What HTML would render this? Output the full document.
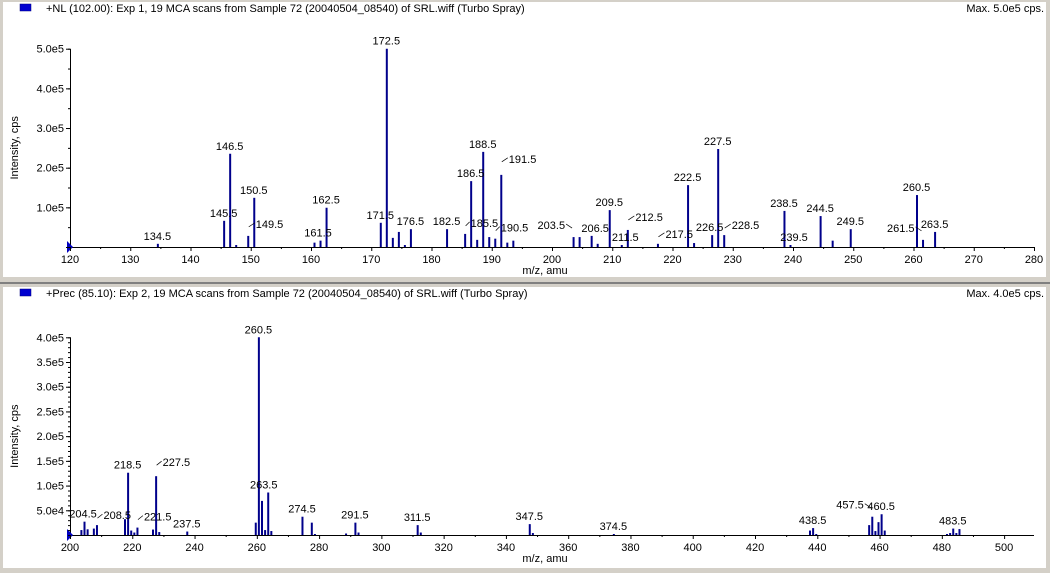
<!DOCTYPE html>
<html><head><meta charset="utf-8"><style>
body{margin:0;width:1050px;height:573px;background:#d4d0c8;overflow:hidden;font-family:"Liberation Sans",Arial,sans-serif}
svg{display:block}
text{font-family:"Liberation Sans",Arial,sans-serif;font-size:11px;fill:#000}
</style></head><body>
<svg id="chart" width="1050" height="573"></svg>
<script>
const topMz=[134.5,145.5,146.5,147.5,149.5,150.5,160.5,161.5,162.5,171.5,172.5,173.5,174.5,175.5,176.5,182.5,185.5,186.5,187.5,188.5,189.5,190.5,191.5,192.5,193.5,203.5,204.5,206.5,207.5,209.5,211.5,212.5,217.5,222.5,223.5,226.5,227.5,228.5,238.5,239.5,244.5,246.5,249.5,260.5,261.5,263.5];
const topInt=[8000,66000,235000,5000,28000,124000,11000,16000,99000,61000,500000,23000,38000,5000,45000,45000,33000,166000,18000,240000,25000,21000,182000,11000,16000,25000,25000,28000,8000,93000,5000,43000,8000,156000,10000,30000,247000,30000,91000,5000,78000,16000,45000,131000,18000,38000];
const topLabels=["134.5","145.5","146.5","149.5","150.5","161.5","162.5","171.5","172.5","176.5","182.5","185.5","186.5","188.5","190.5","191.5","203.5","206.5","209.5","211.5","212.5","217.5","222.5","226.5","227.5","228.5","238.5","239.5","244.5","249.5","260.5","261.5","263.5"];
const topYTicks=[0,100000,200000,300000,400000,500000];
const topYTickLabels=["","1.0e5","2.0e5","3.0e5","4.0e5","5.0e5"];
const topXTicks=[120,130,140,150,160,170,180,190,200,210,220,230,240,250,260,270,280];

const botMz=[203.5,204.5,205.5,207.5,208.5,217.5,218.5,219.5,220.5,221.5,226.5,227.5,228.5,237.5,259.5,260.5,261.5,262.5,263.5,264.5,274.5,277.5,278.5,288.5,291.5,292.5,311.5,312.5,347.5,348.5,374.5,437.5,438.5,439.5,456.5,457.5,458.5,459.5,460.5,461.5,481.5,482.5,483.5,484.5,485.5];
const botInt=[10000,27000,11500,13000,20000,32000,126000,9000,5000,15000,11000,119000,6000,7000,25000,400000,69000,10000,86000,8000,37000,25000,2000,3000,25000,5000,20000,5000,22000,4000,2000,9000,14000,2000,20000,37000,8000,26000,42000,9000,2000,4000,13000,4000,12000];
const botLabels=["204.5","208.5","218.5","221.5","227.5","237.5","260.5","263.5","274.5","291.5","311.5","347.5","374.5","438.5","457.5","460.5","483.5"];
const botYTicks=[50000,100000,150000,200000,250000,300000,350000,400000];
const botYTickLabels=["5.0e4","1.0e5","1.5e5","2.0e5","2.5e5","3.0e5","3.5e5","4.0e5"];
const botXTicks=[200,220,240,260,280,300,320,340,360,380,400,420,440,460,480,500];

// label offsets (style, not data): [dx, dy, leader]; leader: 1 = label right of peak, -1 = left
const labelOff={
 top:{"149.5":[8,-4,1],"191.5":[8,-8,1],"212.5":[8,-5,1],"217.5":[8,-2,1],"228.5":[8,-2,1],"185.5":[6,-3,1],"190.5":[6,-3,1],"203.5":[-8,-4,-1],"261.5":[-8,-4,-1],"211.5":[4,0,0],"239.5":[4,0,0],"206.5":[4,0,0],"226.5":[-2,0,0],"161.5":[-2,0,0]},
 bot:{"204.5":[-1,0,0],"208.5":[7,-2,1],"221.5":[7,-3,1],"227.5":[7,-6,1],"457.5":[-8,-4,-1],"263.5":[-4,0,0]}
};

const NS="http://www.w3.org/2000/svg";
const svg=document.getElementById('chart');
function mk(tag,attrs,parent){const e=document.createElementNS(NS,tag);for(const k in attrs)e.setAttribute(k,attrs[k]);(parent||svg).appendChild(e);return e;}

function panel(cfg){
 const g=mk('g',{});
 
 
 const bg=mk('rect',{x:3,y:cfg.py0,width:1043,height:cfg.py1-cfg.py0,fill:'#fff'},g);
 
 
 const sq=mk('rect',{x:20,y:cfg.py0+2,width:11,height:7,fill:'#0000d0',stroke:'#000080','stroke-width':0.5},g);
 
 
 const tt=mk('text',{x:46,y:cfg.py0+10,'font-size':'10px'},g);tt.textContent=cfg.title;
 
 
 const mx=mk('text',{x:1044,y:cfg.py0+10,'text-anchor':'end','font-size':'10px'},g);mx.textContent=cfg.max;
 
 
 const X=v=>cfg.x0+(v-cfg.xmin)*(cfg.x1-cfg.x0)/(cfg.xmax-cfg.xmin);
 const Y=v=>cfg.y0-v*(cfg.y0-cfg.yTop)/cfg.ymax;
 const xa=mk('line',{x1:cfg.x0,y1:cfg.y0+0.5,x2:cfg.x1,y2:cfg.y0+0.5,stroke:'#000'},g);
 
 
 const ya=mk('line',{x1:cfg.x0+0.5,y1:cfg.yTop,x2:cfg.x0+0.5,y2:cfg.y0,stroke:'#000'},g);
 
 
 const tri=mk('polygon',{points:`${cfg.x0-3},${cfg.y0-6} ${cfg.x0+3},${cfg.y0} ${cfg.x0-3},${cfg.y0+6}`,fill:'#0000c0'},g);
 
 
 const step=cfg.xTicks[1]-cfg.xTicks[0];
 for(let v=cfg.xmin;v<=cfg.xmax+0.01;v+=step/2){
  const major=cfg.xTicks.includes(v);
  mk('line',{x1:X(v)+0.5,y1:cfg.y0,x2:X(v)+0.5,y2:cfg.y0+(major?4:2),stroke:'#000'},g);
 }
 cfg.xTicks.forEach(v=>{const t=mk('text',{x:X(v),y:cfg.y0+16,'text-anchor':'middle'},g);t.textContent=v;
  
  });
 const ys=cfg.yTicks[1]-cfg.yTicks[0];
 for(let v=0;v<=cfg.ymax+1;v+=ys/cfg.yMinorDiv){
  mk('line',{x1:cfg.x0-2,y1:Y(v)+0.5,x2:cfg.x0,y2:Y(v)+0.5,stroke:'#000'},g);
 }
 cfg.yTicks.forEach((v,i)=>{
  mk('line',{x1:cfg.x0-4,y1:Y(v)+0.5,x2:cfg.x0,y2:Y(v)+0.5,stroke:'#000'},g);
  const t=mk('text',{x:cfg.x0-6,y:Y(v)+4,'text-anchor':'end'},g);t.textContent=cfg.yTickLabels[i];
  
  
 });
 const yt=mk('text',{x:0,y:0,'text-anchor':'middle','font-size':'12px',transform:`translate(18,${(cfg.y0+cfg.yTop)/2}) rotate(-90)`},g);yt.textContent='Intensity, cps';
 
 
 const xt=mk('text',{x:545,y:cfg.y0+27,'text-anchor':'middle','font-size':'10px'},g);xt.textContent='m/z, amu';
 
 
 cfg.mz.forEach((m,i)=>{
  const l=mk('line',{x1:X(m)+0.5,y1:Y(cfg.int[i]),x2:X(m)+0.5,y2:cfg.y0,stroke:'#00008b','stroke-width':2},g);
  
  
 });
 cfg.labels.forEach(s=>{
  const m=parseFloat(s);const idx=cfg.mz.indexOf(m);
  const o=cfg.off[s]||[0,0,0];
  const px=X(m),py=Y(cfg.int[idx]);
  const by=py-4+o[1];
  let t;
  if(o[2]===1){
   t=mk('text',{x:px+o[0],y:by,'text-anchor':'start'},g);
   mk('line',{x1:px+1,y1:by-1,x2:px+o[0]-1,y2:by-5,stroke:'#000','stroke-width':0.7},g);
  }else if(o[2]===-1){
   t=mk('text',{x:px+o[0],y:by,'text-anchor':'end'},g);
   mk('line',{x1:px-1,y1:by-1,x2:px+o[0]+1,y2:by-5,stroke:'#000','stroke-width':0.7},g);
  }else{
   t=mk('text',{x:px+o[0],y:by,'text-anchor':'middle'},g);
  }
  t.textContent=s;
  
  
 });
}
const sep=mk('rect',{x:0,y:282,width:1050,height:2,fill:'#808080'});


panel({name:'top-panel',py0:2,py1:277,title:'+NL (102.00): Exp 1, 19 MCA scans from Sample 72 (20040504_08540) of SRL.wiff (Turbo Spray)',max:'Max. 5.0e5 cps.',
 x0:70,x1:1034,xmin:120,xmax:280,y0:247,yTop:48.7,ymax:500000,xTicks:topXTicks,yTicks:topYTicks,yTickLabels:topYTickLabels,yMinorDiv:2,
 mz:topMz,int:topInt,labels:topLabels,off:labelOff.top});
panel({name:'bottom-panel',py0:287,py1:568,title:'+Prec (85.10): Exp 2, 19 MCA scans from Sample 72 (20040504_08540) of SRL.wiff (Turbo Spray)',max:'Max. 4.0e5 cps.',
 x0:70,x1:1034,xmin:200,xmax:509.6,y0:535,yTop:337.3,ymax:400000,xTicks:botXTicks,yTicks:botYTicks,yTickLabels:botYTickLabels,yMinorDiv:5,
 mz:botMz,int:botInt,labels:botLabels,off:labelOff.bot});
</script>
</body></html>
